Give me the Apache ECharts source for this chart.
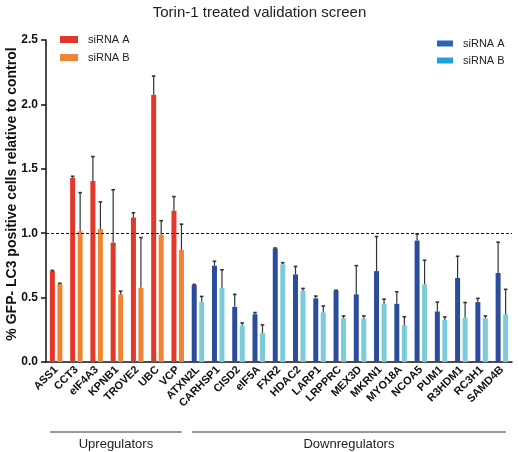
<!DOCTYPE html>
<html>
<head>
<meta charset="utf-8">
<script src="https://cdn.jsdelivr.net/npm/echarts@6/dist/echarts.min.js"></script>
<style>
html,body{margin:0;padding:0;background:#fff;}
#chart{width:519px;height:452px;}
</style>
</head>
<body>
<div id="chart"></div>
<script>
// ---- data ----
const upCategories = ['ASS1','CCT3','eIF4A3','KPNB1','TROVE2','UBC','VCP'];
const downCategories = ['ATXN2L','CARHSP1','CISD2','eIF5A','FXR2','HDAC2','LARP1','LRPPRC','MEX3D','MKRN1','MYO18A','NCOA5','PUM1','R3HDM1','RC3H1','SAMD4B'];
const upA    = [0.706, 1.43, 1.405, 0.927, 1.122, 2.075, 1.174];
const upAErr = [0.005, 0.012, 0.19, 0.41, 0.036, 0.145, 0.11];
const upB    = [0.605, 1.015, 1.033, 0.525, 0.576, 0.987, 0.87];
const upBErr = [0.006, 0.30, 0.21, 0.025, 0.39, 0.11, 0.20];
const downA    = [0.597, 0.748, 0.428, 0.371, 0.88, 0.68, 0.494, 0.553, 0.525, 0.706, 0.452, 0.943, 0.392, 0.652, 0.465, 0.691];
const downAErr = [0.005, 0.034, 0.097, 0.013, 0.005, 0.062, 0.018, 0.004, 0.223, 0.268, 0.093, 0.05, 0.073, 0.169, 0.029, 0.239];
const downB    = [0.467, 0.576, 0.283, 0.226, 0.758, 0.553, 0.385, 0.34, 0.338, 0.452, 0.286, 0.603, 0.325, 0.343, 0.338, 0.371];
const downBErr = [0.042, 0.14, 0.02, 0.062, 0.013, 0.018, 0.05, 0.018, 0.02, 0.036, 0.065, 0.187, 0.025, 0.119, 0.02, 0.193];
const yTicks = [0, 0.5, 1.0, 1.5, 2.0, 2.5];
const refValue = 1.0;
const groupLabels = ['Upregulators', 'Downregulators'];
const legendLabels = {upA: 'siRNA A', upB: 'siRNA B', downA: 'siRNA A', downB: 'siRNA B'};

// ---- styles ----
const FONT = 'Liberation Sans, Arial, Helvetica, sans-serif';
const BAR_W = 5;
const GAP_FRAC = 0.5;
const OFF = (BAR_W + BAR_W * GAP_FRAC) / 2;
const colors = {upA: '#e2372a', upB: '#ee8434', downA: '#2b4c9c', downB: '#7ccbdc'};

const categories = upCategories.concat(downCategories);
const nUp = upCategories.length, nDown = downCategories.length;
const pad = (arr, before, after) => Array(before).fill(null).concat(arr).concat(Array(after).fill(null));

function errData(vals, errs, start) {
  return vals.map((v, i) => [start + i, v, errs[i]]);
}
function errSeries(name, vals, errs, start, offset) {
  return {
    type: 'custom',
    name: name + 'Err',
    z: 5,
    silent: true,
    data: errData(vals, errs, start),
    encode: {x: 0, y: 1},
    renderItem: function (params, api) {
      const idx = api.value(0), v = api.value(1), e = api.value(2);
      const p0 = api.coord([idx, v]);
      const p1 = api.coord([idx, v + e]);
      const x = p0[0] + offset;
      return {
        type: 'group',
        children: [
          {type: 'line', shape: {x1: x, y1: p0[1], x2: x, y2: p1[1]}, style: {stroke: '#333', lineWidth: 1.2}},
          {type: 'line', shape: {x1: x - 1.8, y1: p1[1], x2: x + 1.8, y2: p1[1]}, style: {stroke: '#333', lineWidth: 1.6}}
        ]
      };
    }
  };
}

const chart = echarts.init(document.getElementById('chart'), null, {renderer: 'canvas'});
const option = {
  animation: false,
  backgroundColor: '#fff',
  title: {
    text: 'Torin-1 treated validation screen',
    left: 'center',
    top: 0,
    textStyle: {fontFamily: FONT, fontSize: 15, fontWeight: 'normal', color: '#222'}
  },
  legend: [
    {
      data: ['upA', 'upB'],
      orient: 'vertical', left: 55, top: 29,
      itemWidth: 18, itemHeight: 7, itemGap: 7, icon: 'rect',
      formatter: n => legendLabels[n],
      textStyle: {fontFamily: FONT, fontSize: 11, color: '#222', padding: [0, 0, 0, 5]},
      selectedMode: false
    },
    {
      data: [{name: 'downA', itemStyle: {color: '#2868b2'}}, {name: 'downB', itemStyle: {color: '#1da0e2'}}],
      orient: 'vertical', left: 432, top: 33,
      itemWidth: 16, itemHeight: 6, itemGap: 6, icon: 'rect',
      formatter: n => legendLabels[n],
      textStyle: {fontFamily: FONT, fontSize: 11, color: '#222', padding: [0, 0, 0, 5]},
      selectedMode: false
    }
  ],
  grid: {left: 46, top: 40, width: 466, bottom: 90, containLabel: false, outerBoundsMode: 'none'},
  xAxis: {
    type: 'category',
    data: categories,
    axisLine: {lineStyle: {color: '#111', width: 1.5}},
    axisTick: {alignWithLabel: true, length: 4, lineStyle: {color: '#111', width: 1.5}},
    axisLabel: {
      interval: 0, rotate: 45, margin: 6,
      fontFamily: FONT, fontSize: 11, fontWeight: 'bold', color: '#111'
    }
  },
  yAxis: {
    type: 'value',
    min: yTicks[0], max: yTicks[yTicks.length - 1], interval: 0.5,
    name: '% GFP- LC3 positive cells relative to control',
    nameLocation: 'middle', nameGap: 27, nameMoveOverlap: false,
    nameTextStyle: {fontFamily: FONT, fontSize: 14, fontWeight: 'bold', color: '#111', padding: [0, 0, 0, 14]},
    axisLine: {show: true, lineStyle: {color: '#111', width: 1.5}},
    axisTick: {show: true, length: 5, lineStyle: {color: '#111', width: 1.5}},
    splitLine: {show: false},
    axisLabel: {
      margin: 8, fontFamily: FONT, fontSize: 12, fontWeight: 'bold', color: '#111',
      formatter: v => v.toFixed(1)
    }
  },
  series: [
    {
      name: 'upA', type: 'bar', stack: 'A', barWidth: BAR_W, barGap: (GAP_FRAC * 100) + '%',
      itemStyle: {color: colors.upA}, data: pad(upA, 0, nDown),
      markLine: {
        silent: true, symbol: 'none', label: {show: false},
        lineStyle: {color: '#111', type: [3, 2], width: 1},
        data: [{yAxis: refValue}]
      }
    },
    {name: 'upB', type: 'bar', stack: 'B', barWidth: BAR_W, barGap: (GAP_FRAC * 100) + '%', itemStyle: {color: colors.upB}, data: pad(upB, 0, nDown)},
    {name: 'downA', type: 'bar', stack: 'A', barWidth: BAR_W, barGap: (GAP_FRAC * 100) + '%', itemStyle: {color: colors.downA}, data: pad(downA, nUp, 0)},
    {name: 'downB', type: 'bar', stack: 'B', barWidth: BAR_W, barGap: (GAP_FRAC * 100) + '%', itemStyle: {color: colors.downB}, data: pad(downB, nUp, 0)},
    errSeries('upA', upA, upAErr, 0, -OFF),
    errSeries('upB', upB, upBErr, 0, OFF),
    errSeries('downA', downA, downAErr, nUp, -OFF),
    errSeries('downB', downB, downBErr, nUp, OFF)
  ]
};
chart.setOption(option);

// group brackets under the axis, positioned from category coordinates
function cx(i) { return chart.convertToPixel({gridIndex: 0}, [i, 0])[0]; }
const lineY = 432, textY = 444;
const groups = [[0, nUp - 1], [nUp, nUp + nDown - 1]];
const graphics = [];
groups.forEach((g, k) => {
  const x1 = cx(g[0]) - 6, x2 = cx(g[1]) + 4;
  graphics.push({type: 'line', shape: {x1: x1, y1: lineY, x2: x2, y2: lineY}, style: {stroke: '#333', lineWidth: 1}});
  graphics.push({type: 'text', x: (x1 + x2) / 2, y: textY,
    style: {text: groupLabels[k], fontFamily: FONT, fontSize: 13, fill: '#222', textAlign: 'center', textVerticalAlign: 'middle'}});
});
chart.setOption({graphic: graphics});
</script>
</body>
</html>
